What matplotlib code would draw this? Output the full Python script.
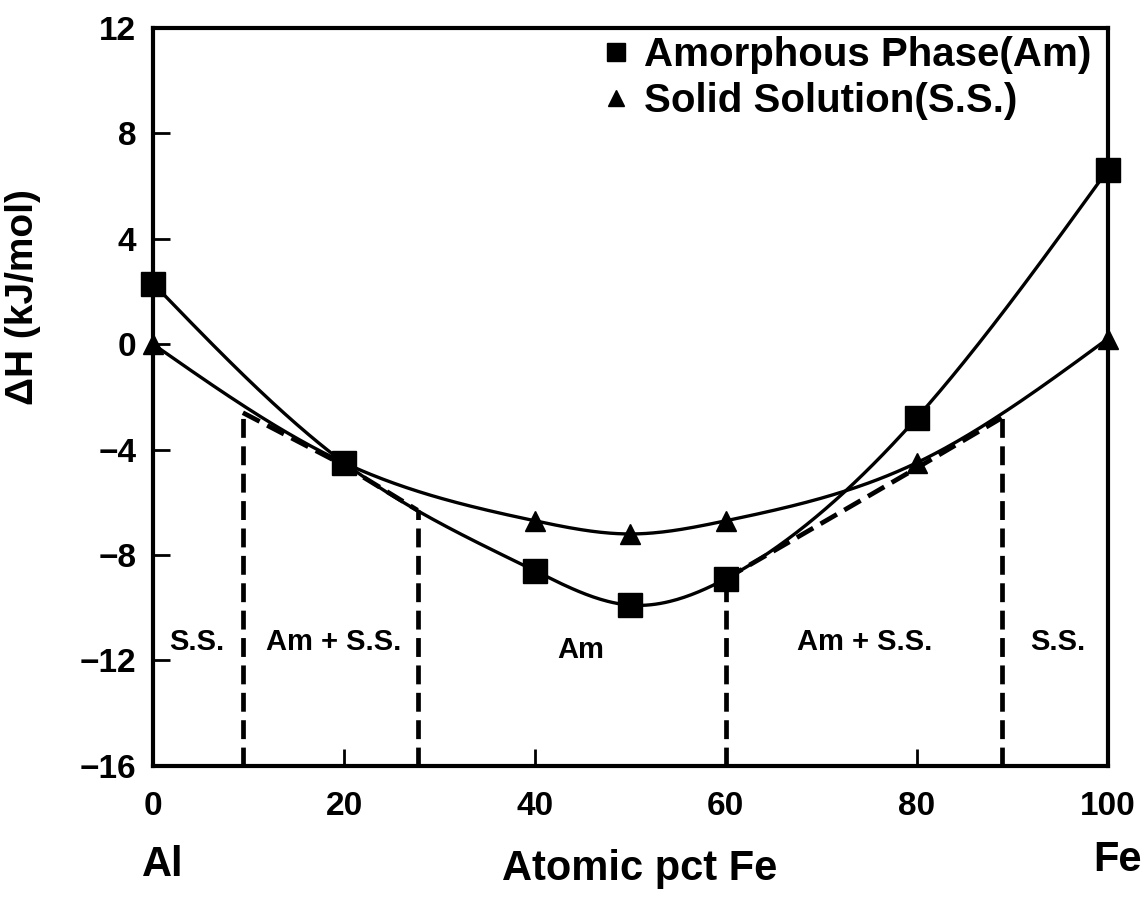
import numpy as np
import matplotlib.pyplot as plt

# values
x_pct = [0, 20, 40, 50, 60, 80, 100]
dh_amorphous = [2.3, -4.5, -8.6, -9.9, -8.9, -2.8, 6.6]
dh_solid = [0.0, -4.5, -6.7, -7.2, -6.7, -4.5, 0.2]

# phase boundaries (x, y on the curve) and common-tangent segments
bounds_x = [9.4, 27.7, 60.0, 88.9]
bounds_y = [-2.6, -6.3, -8.9, -2.8]
tangent_left = ([9.4, 20, 27.7], [-2.6, -4.6, -6.3])
tangent_right = ([60, 80, 88.9], [-8.9, -4.7, -2.8])

regions = ["S.S.", "Am + S.S.", "Am", "Am + S.S.", "S.S."]
region_x = [4.6, 18.9, 44.8, 74.5, 94.8]
region_y = [-11.3, -11.3, -11.6, -11.3, -11.3]


def natural_spline(xs, ys, n=400):
    xs = np.asarray(xs, float)
    ys = np.asarray(ys, float)
    k = len(xs)
    h = np.diff(xs)
    A = np.zeros((k, k))
    b = np.zeros(k)
    A[0, 0] = A[-1, -1] = 1
    for i in range(1, k - 1):
        A[i, i - 1] = h[i - 1]
        A[i, i] = 2 * (h[i - 1] + h[i])
        A[i, i + 1] = h[i]
        b[i] = 3 * ((ys[i + 1] - ys[i]) / h[i] - (ys[i] - ys[i - 1]) / h[i - 1])
    c = np.linalg.solve(A, b)
    xx = np.linspace(xs[0], xs[-1], n)
    idx = np.clip(np.searchsorted(xs, xx) - 1, 0, k - 2)
    dx = xx - xs[idx]
    bb = (ys[idx + 1] - ys[idx]) / h[idx] - h[idx] * (2 * c[idx] + c[idx + 1]) / 3
    dd = (c[idx + 1] - c[idx]) / (3 * h[idx])
    yy = ys[idx] + bb * dx + c[idx] * dx ** 2 + dd * dx ** 3
    return xx, yy


plt.rcParams['font.family'] = ['Liberation Sans', 'DejaVu Sans']
plt.rcParams['font.weight'] = 'bold'

fig = plt.figure(figsize=(11.43, 9), dpi=100)
ax = fig.add_axes([0.134, 0.149, 0.835, 0.82])

xa, ya = natural_spline(x_pct, dh_amorphous)
xs, ys = natural_spline(x_pct, dh_solid)
ax.plot(xa, ya, color='black', lw=2.4)
ax.plot(xs, ys, color='black', lw=2.4)
ax.plot(x_pct, dh_amorphous, 's', color='black', ms=17, clip_on=False,
        zorder=4, label='Amorphous Phase(Am)')
ax.plot(x_pct, dh_solid, '^', color='black', ms=15, clip_on=False,
        zorder=4, label='Solid Solution(S.S.)')

dash = (0, (4, 1.8))
for bx, by in zip(bounds_x, bounds_y):
    ax.plot([bx, bx], [-16, by], color='black', lw=3.4, linestyle=dash)
for tx, ty in (tangent_left, tangent_right):
    ax.plot(tx, ty, color='black', lw=3.4, linestyle=dash)

for txt, rx, ry in zip(regions, region_x, region_y):
    ax.text(rx, ry, txt, ha='center', va='center', fontsize=21,
            fontweight='bold')

ax.set_xlim(0, 100)
ax.set_ylim(-16, 12)
ax.set_xticks([0, 20, 40, 60, 80, 100])
ax.set_yticks(range(-16, 13, 4))
ax.set_yticklabels([str(v).replace('-', '\u2212') for v in range(-16, 13, 4)])
ax.tick_params(direction='in', length=12, width=2, labelsize=24)
ax.tick_params(axis='x', pad=18)
ax.tick_params(axis='y', pad=12)
for s in ax.spines.values():
    s.set_linewidth(3)

ax.set_ylabel('\u0394H (kJ/mol)', fontsize=28, fontweight='bold')
ax.yaxis.set_label_coords(-0.118, 0.635)

fig.text(0.142, 0.027, 'Al', fontsize=30, fontweight='bold', ha='center')
fig.text(0.978, 0.032, 'Fe', fontsize=30, fontweight='bold', ha='center')
fig.text(0.56, 0.022, 'Atomic pct Fe', fontsize=30, fontweight='bold',
         ha='center')

leg = ax.legend(loc='upper right', frameon=False, fontsize=29,
                handletextpad=0.3, borderaxespad=0.0, labelspacing=0.2,
                handlelength=0.8, markerscale=0.8,
                bbox_to_anchor=(1.0, 1.011))

fig.savefig('out.png', dpi=100)
